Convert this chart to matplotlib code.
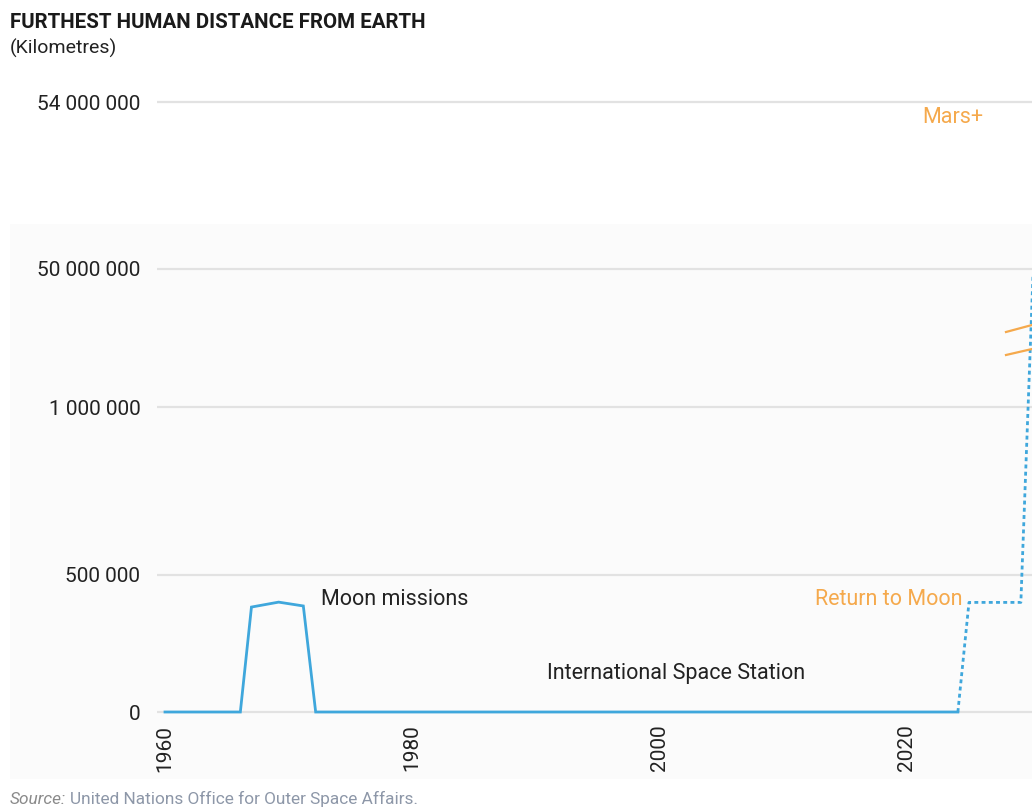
import numpy as np
import matplotlib
matplotlib.use("Agg")
import matplotlib.pyplot as plt
from matplotlib.patches import Rectangle
from matplotlib.lines import Line2D

plt.rcParams['font.family'] = ['Roboto', 'DejaVu Sans']

# ---- data ----
hist_years = [1960, 1966.1, 1967.0, 1969.2, 1971.2, 1972.2, 2024.2]
hist_km = [0, 0, 383000, 401000, 387000, 0, 0]
plan_years = [2024.2, 2025.1, 2029.3, 2030.8]
plan_km = [0, 400000, 400000, 54000000]
y_ticks = [0, 500000, 1000000, 50000000, 54000000]
x_ticks = [1960, 1980, 2000, 2020]

BLUE = '#3fa7dc'
ORANGE = '#f5a94c'
GRID = '#e2e2e2'

# broken (piecewise) y scale: values -> pixel-like positions
brk_vals = np.array([-5e5, 0, 5e5, 1e6, 5e7, 5.4e7, 5.8e7])
brk_pos = np.array([-137.0, 0, 137, 305, 443, 610, 777])

def fwd(v):
    return np.interp(v, brk_vals, brk_pos)

def inv(p):
    return np.interp(p, brk_pos, brk_vals)

W, H = 1032, 807
fig = plt.figure(figsize=(W / 100, H / 100), dpi=100)
fig.patch.set_facecolor('white')
fig.patches.append(Rectangle((10 / W, (H - 779) / H), (W - 10) / W, (779 - 224) / H,
                             transform=fig.transFigure, facecolor='#fbfbfb',
                             edgecolor='none', zorder=-5))

ax_left, ax_right = 157, 1032
ax_top, ax_bot = 95, 715
ax = fig.add_axes([ax_left / W, (H - ax_bot) / H, (ax_right - ax_left) / W, (ax_bot - ax_top) / H])
ax.set_zorder(2)
ax.set_facecolor('none')
ax.set_yscale('function', functions=(fwd, inv))
ax.set_ylim(inv(712 - ax_bot), inv(712 - ax_top))
px_per_year = 12.35
ax.set_xlim(1960 - (165 - ax_left) / px_per_year, 1960 + (ax_right - 165) / px_per_year)

ax.plot(hist_years, hist_km, color=BLUE, lw=2.0, solid_joinstyle='miter', zorder=3)
ax.plot(plan_years, plan_km, color=BLUE, lw=2.0, linestyle=(0, (1.4, 1.2)), zorder=3)

ax.set_yticks(y_ticks)
ax.set_yticklabels([f"{v:,}".replace(",", " ") for v in y_ticks])
ax.set_xticks(x_ticks)
ax.set_xticklabels([str(x) for x in x_ticks], rotation=90, va='top', ha='center')
ax.tick_params(axis='y', length=0, pad=12, labelsize=15, labelcolor='#222222')
ax.tick_params(axis='x', length=0, pad=7, labelsize=15, labelcolor='#222222')
ax.yaxis.grid(True, color=GRID, lw=1.6, zorder=1)
ax.xaxis.grid(False)
for s in ax.spines.values():
    s.set_visible(False)

# annotations
FS = 15.5
ax.text(1972.63, 412400, "Moon missions", fontsize=FS, color='#222222', va='center', ha='left')
ax.text(1990.93, 142300, "International Space Station", fontsize=FS, color='#222222', va='center', ha='left')
ax.text(2024.6, 412400, "Return to Moon", fontsize=FS, color=ORANGE, va='center', ha='right')
ax.text(2021.3, 53620000, "Mars+", fontsize=FS, color=ORANGE, va='center', ha='left')

# axis break marks
for y0, y1 in [(332, 325), (355, 349)]:
    fig.lines.append(Line2D([1006 / W, 1032 / W], [(H - y0) / H, (H - y1) / H],
                            transform=fig.transFigure, color=ORANGE, lw=1.6, zorder=5))

# titles
fig.text(10 / W, 1 - 22 / H, "FURTHEST HUMAN DISTANCE FROM EARTH", fontsize=14.8,
         fontweight='bold', color='#1a1a1a', va='center', ha='left')
fig.text(10 / W, 1 - 48 / H, "(Kilometres)", fontsize=14, color='#222222', va='center', ha='left')

# source
t1 = fig.text(10 / W, 1 - 799 / H, "Source:", fontsize=12.4, style='italic', color='#8a8a8a',
              va='center', ha='left')
fig.canvas.draw()
bb = t1.get_window_extent()
fig.text((bb.x1 + 4) / W, 1 - 799 / H, "United Nations Office for Outer Space Affairs.",
         fontsize=12.4, color='#8d97a8', va='center', ha='left')

fig.savefig("out.png", dpi=100)
